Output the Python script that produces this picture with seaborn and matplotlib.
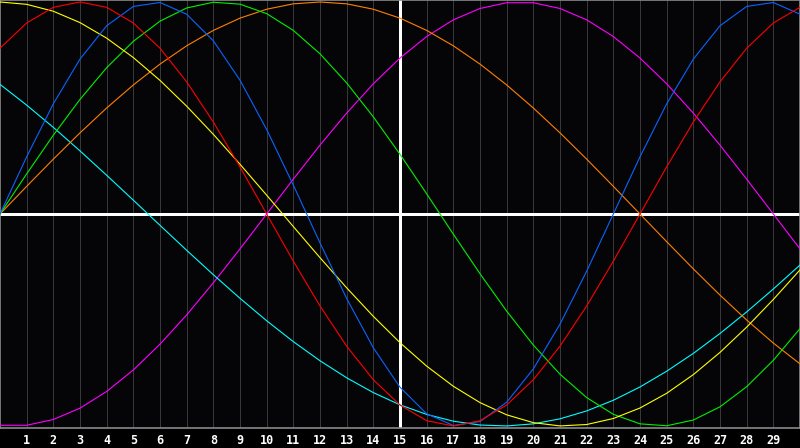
import numpy as np
import pandas as pd
import matplotlib
matplotlib.use("Agg")
import matplotlib.pyplot as plt
import seaborn as sns

x_vals = list(range(0, 31))

red = [0.7818, 0.9010, 0.9749, 1.0, 0.9749, 0.9010, 0.7818, 0.6235, 0.4339, 0.2225,
       0.0, -0.2225, -0.4339, -0.6235, -0.7818, -0.9010, -0.9749, -1.0, -0.9749, -0.9010,
       -0.7818, -0.6235, -0.4339, -0.2225, 0.0, 0.2225, 0.4339, 0.6235, 0.7818, 0.9010, 0.9749]
blue = [0.0, 0.2698, 0.5196, 0.7308, 0.8879, 0.9791, 0.9977, 0.9423, 0.8170, 0.6311,
        0.3984, 0.1362, -0.1362, -0.3984, -0.6311, -0.8170, -0.9423, -0.9977, -0.9791, -0.8879,
        -0.7308, -0.5196, -0.2698, 0.0, 0.2698, 0.5196, 0.7308, 0.8879, 0.9791, 0.9977, 0.9423]
green = [0.0, 0.1893, 0.3717, 0.5406, 0.6901, 0.8146, 0.9096, 0.9718, 0.9989, 0.9898,
         0.9450, 0.8660, 0.7557, 0.6182, 0.4582, 0.2817, 0.0951, -0.0951, -0.2817, -0.4582,
         -0.6182, -0.7557, -0.8660, -0.9450, -0.9898, -0.9989, -0.9718, -0.9096, -0.8146, -0.6901, -0.5406]
orange = [0.0, 0.1305, 0.2588, 0.3827, 0.5, 0.6088, 0.7071, 0.7934, 0.8660, 0.9239,
          0.9659, 0.9914, 1.0, 0.9914, 0.9659, 0.9239, 0.8660, 0.7934, 0.7071, 0.6088,
          0.5, 0.3827, 0.2588, 0.1305, 0.0, -0.1305, -0.2588, -0.3827, -0.5, -0.6088, -0.7071]
magenta = [-0.9966, -0.9966, -0.9694, -0.9158, -0.8372, -0.7357, -0.6142, -0.4759, -0.3247, -0.1646,
           0.0, 0.1646, 0.3247, 0.4759, 0.6142, 0.7357, 0.8372, 0.9158, 0.9694, 0.9966,
           0.9966, 0.9694, 0.9158, 0.8372, 0.7357, 0.6142, 0.4759, 0.3247, 0.1646, 0.0, -0.1646]
cyan = [0.6116, 0.5136, 0.4085, 0.2977, 0.1827, 0.0652, -0.0534, -0.1711, -0.2864, -0.3977,
        -0.5035, -0.6021, -0.6922, -0.7727, -0.8425, -0.9002, -0.9454, -0.9773, -0.9955, -0.9997,
        -0.9899, -0.9662, -0.9289, -0.8786, -0.8159, -0.7416, -0.6575, -0.5636, -0.4619, -0.3537, -0.2406]
yellow = [1.0, 0.9890, 0.9564, 0.9028, 0.8294, 0.7379, 0.6302, 0.5086, 0.3758, 0.2348,
          0.0888, -0.0593, -0.2060, -0.3483, -0.4828, -0.6070, -0.7176, -0.8126, -0.8896, -0.9473,
          -0.9842, -0.9996, -0.9930, -0.9646, -0.9151, -0.8457, -0.7576, -0.6528, -0.5337, -0.4031, -0.2635]

tick_positions = list(range(1, 30))
tick_labels = [str(i) for i in tick_positions]

series = {
    "magenta": magenta, "cyan": cyan, "orange": orange, "green": green,
    "yellow": yellow, "blue": blue, "red": red,
}
colors = {
    "magenta": "#ff00ff", "cyan": "#00ffff", "orange": "#ff8000", "green": "#00f000",
    "yellow": "#ffff00", "blue": "#0a64ff", "red": "#ff0000",
}

frames = []
for name, vals in series.items():
    frames.append(pd.DataFrame({"x": x_vals, "y": vals, "s": name}))
df = pd.concat(frames, ignore_index=True)

sns.set_style("dark")
fig = plt.figure(figsize=(8, 4.48), dpi=100, facecolor="#000000")
ax = fig.add_axes([0.0, 20 / 448, 1.0, 428 / 448])
ax.set_facecolor("#050508")

# vertical gridlines
for t in tick_positions:
    ax.axvline(t, color="#38383c", lw=0.72, antialiased=False, zorder=0)

ax.axhline(0, color="#ffffff", lw=0.75, antialiased=False, zorder=1)
ax.axvline(15, color="#ffffff", lw=0.75, antialiased=False, zorder=1)

sns.lineplot(data=df, x="x", y="y", hue="s", palette=colors, legend=False,
             linewidth=0.8, ax=ax, sort=False, estimator=None, zorder=3)

ax.set_xlim(0, 30)
ax.set_ylim(-214 / 212, 214 / 212)
ax.set_xticks(tick_positions)
ax.set_xticklabels(tick_labels, color="white", fontsize=8.5, fontweight="bold",
                   family="DejaVu Sans Mono")
ax.tick_params(axis="x", length=0, pad=4)
ax.set_yticks([])
ax.set_xlabel("")
ax.set_ylabel("")
ax.grid(False)
for sp in ax.spines.values():
    sp.set_visible(True)
    sp.set_color("#8a8a8a")
    sp.set_linewidth(1.2)

fig.savefig("out.png", dpi=100, facecolor="#000000")
